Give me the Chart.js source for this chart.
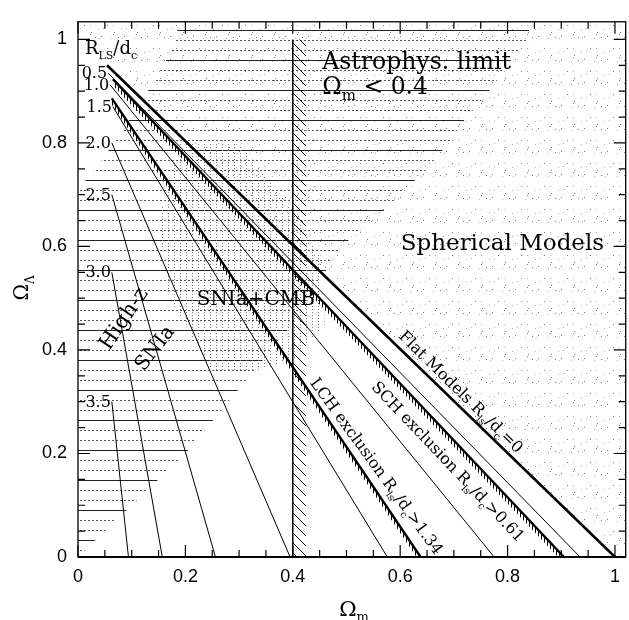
<!DOCTYPE html>
<html>
<head>
<meta charset="utf-8">
<script src="https://cdn.jsdelivr.net/npm/chart.js@4.4.0/dist/chart.umd.min.js"></script>
<style>
  html, body { margin: 0; padding: 0; background: #fff; }
  canvas { display: block; }
</style>
</head>
<body>
<canvas id="chart" width="629" height="620"></canvas>
<script>
// axis ticks
var xTickVals = [0, 0.2, 0.4, 0.6, 0.8, 1];
var xTickText = ['0', '0.2', '0.4', '0.6', '0.8', '1'];
var yTickVals = [0, 0.2, 0.4, 0.6, 0.8, 1];
var yTickText = ['0', '0.2', '0.4', '0.6', '0.8', '1'];

// R_LS/d_c contours: start point on the left, end on Omega_Lambda = 0
var contourLevels = ['0.5', '1.0', '1.5', '2.0', '2.5', '3.0', '3.5'];
var contourStartX = [0.056, 0.060, 0.065, 0.063, 0.063, 0.063, 0.063];
var contourStartY = [0.935, 0.912, 0.870, 0.800, 0.700, 0.550, 0.300];
var contourEndX = [0.935, 0.775, 0.576, 0.395, 0.256, 0.157, 0.094];

// flat models (R_LS/d_c = 0) and the two exclusion limits
var flatX = [0.054, 1.0];
var flatY = [0.95, 0];
var schX = [0.065, 0.905];   // R_LS/d_c > 0.61
var schY = [0.923, 0];
var lchX = [0.063, 0.638];   // R_LS/d_c > 1.34
var lchY = [0.886, 0];

// astrophysical limit Omega_m < 0.4
var astroX = [0.4, 0.4];
var astroY = [0, 1.0];
var astroHatchX = [0.4, 0.425];
var astroHatchY = [1.0, 1.0];

// spherical models region: above Omega_m + Omega_Lambda = 1
var sphericalX = [0, 1, 1.02];
var sphericalY = [1, 0, 0];

// high-z SNIa band (horizontal lines)
var sniaX = [0, 0.1, 0.2, 0.28, 0.40, 0.49, 0.56, 0.62, 0.65, 0.69, 0.72, 0.75, 0.78, 0.82, 0.84, 0.84, 0.19, 0.17, 0.13, 0.08, 0.04, 0, 0];
var sniaY = [0, 0.1, 0.2, 0.30, 0.45, 0.60, 0.66, 0.72, 0.75, 0.80, 0.845, 0.88, 0.92, 0.98, 1.0, 1.034, 1.034, 0.97, 0.90, 0.82, 0.76, 0.71, 0];

// SNIa + CMB region (vertical dotted lines)
var cmbX = [0.19, 0.30, 0.40, 0.45, 0.46, 0.40, 0.33, 0.25, 0.17, 0.15, 0.19];
var cmbY = [0.80, 0.80, 0.67, 0.58, 0.45, 0.38, 0.36, 0.36, 0.50, 0.65, 0.80];

function pts(xs, ys) {
  return xs.map(function(v, i) { return {x: v, y: ys[i]}; });
}

var canvas = document.getElementById('chart');
var ctx0 = canvas.getContext('2d');

function makePattern(w, h, draw) {
  var c = document.createElement('canvas');
  c.width = w; c.height = h;
  draw(c.getContext('2d'));
  return ctx0.createPattern(c, 'repeat');
}

var stipple = makePattern(23, 23, function(g) {
  var s = 11;
  for (var i = 0; i < 11; i++) {
    s = (Math.imul(s, 1103515245) + 12345) >>> 0;
    var px = (s >>> 16) % 23;
    s = (Math.imul(s, 1103515245) + 12345) >>> 0;
    var py = (s >>> 16) % 23;
    g.fillStyle = i % 2 ? '#7a7a7a' : '#b5b5b5';
    g.fillRect(px, py, 1, 1);
  }
});
var hLines = makePattern(4, 30, function(g) {
  g.fillStyle = '#222';
  g.fillRect(0, 0, 4, 1);
  g.fillStyle = '#555';
  g.fillRect(0, 10, 2, 1);
  g.fillRect(0, 20, 2, 1);
});
var vDots = makePattern(6, 3, function(g) {
  g.fillStyle = '#777';
  g.fillRect(0, 0, 1, 1);
});
var hatch = makePattern(10, 10, function(g) {
  g.strokeStyle = '#000';
  g.lineWidth = 1;
  g.beginPath();
  g.moveTo(-1, -1); g.lineTo(11, 11);
  g.stroke();
});
var ticksBand = makePattern(3, 3, function(g) {
  g.fillStyle = '#000';
  g.fillRect(1, 0, 1, 3);
});

var SERIF = '"DejaVu Serif", serif';

function richText(ctx, parts, size, x, y, angle, align) {
  ctx.save();
  ctx.translate(x, y);
  ctx.rotate(angle * Math.PI / 180);
  ctx.textAlign = 'left';
  ctx.textBaseline = 'alphabetic';
  var widths = parts.map(function(p) {
    ctx.font = (p[1] ? Math.round(size * 0.62) : size) + 'px ' + SERIF;
    return ctx.measureText(p[0]).width;
  });
  var total = widths.reduce(function(a, b) { return a + b; }, 0);
  var cx = align === 'center' ? -total / 2 : 0;
  var dy = align === 'center' ? size * 0.36 : 0;
  parts.forEach(function(p, i) {
    ctx.font = (p[1] ? Math.round(size * 0.62) : size) + 'px ' + SERIF;
    ctx.fillText(p[0], cx, dy + (p[1] ? size * 0.28 : 0));
    cx += widths[i];
  });
  ctx.restore();
}

var overlay = {
  id: 'overlay',
  afterDatasetsDraw: function(chart) {
    var ctx = chart.ctx, a = chart.chartArea;
    var xs = chart.scales.x, ys = chart.scales.y;
    var X = function(v) { return xs.getPixelForValue(v); };
    var Y = function(v) { return ys.getPixelForValue(v); };
    ctx.save();
    ctx.strokeStyle = '#000';
    ctx.lineWidth = 1.3;
    ctx.strokeRect(a.left, a.top, a.right - a.left, a.bottom - a.top);
    ctx.lineWidth = 2.2;
    ctx.beginPath(); ctx.moveTo(a.left, a.bottom); ctx.lineTo(a.right, a.bottom); ctx.stroke();

    // inward ticks on all four sides
    ctx.lineWidth = 1.2;
    ctx.beginPath();
    for (var i = 0; i <= 20; i++) {
      var v = i * 0.05;
      var len = i % 4 === 0 ? 12 : 7;
      var px = X(v), py = Y(v);
      ctx.moveTo(px, a.bottom); ctx.lineTo(px, a.bottom - len);
      ctx.moveTo(px, a.top); ctx.lineTo(px, a.top + len);
      ctx.moveTo(a.left, py); ctx.lineTo(a.left + len, py);
      ctx.moveTo(a.right, py); ctx.lineTo(a.right - len, py);
    }
    ctx.stroke();

    ctx.fillStyle = '#000';
    // contour labels
    ctx.font = '16px ' + SERIF;
    ctx.textAlign = 'right';
    ctx.textBaseline = 'middle';
    contourLevels.forEach(function(t, k) {
      ctx.fillText(t, X(contourStartX[k]) - 1, Y(contourStartY[k]) + 1);
    });

    richText(ctx, [['R'], ['LS', 1], ['/d'], ['c', 1]], 18, X(0.013), Y(0.972), 0, 'left');
    richText(ctx, [['Astrophys. limit']], 23.5, X(0.455), Y(0.942), 0, 'left');
    richText(ctx, [['\u03A9'], ['m', 1], [' < 0.4']], 23.5, X(0.455), Y(0.895), 0, 'left');
    richText(ctx, [['Spherical Models']], 23, X(0.601), Y(0.593), 0, 'left');
    richText(ctx, [['SNIa+CMB']], 20, X(0.221), Y(0.486), 0, 'left');
    richText(ctx, [['High-z']], 21, X(0.083), Y(0.462), -56, 'center');
    richText(ctx, [['SNIa']], 20, X(0.141), Y(0.405), -52, 'center');
    richText(ctx, [['Flat Models R'], ['ls', 1], ['/d'], ['c', 1], ['=0']], 16, X(0.714), Y(0.320), 44.5, 'center');
    richText(ctx, [['SCH exclusion R'], ['ls', 1], ['/d'], ['c', 1], ['>0.61']], 16, X(0.690), Y(0.185), 46.5, 'center');
    richText(ctx, [['LCH exclusion R'], ['ls', 1], ['/d'], ['c', 1], ['>1.34']], 16, X(0.557), Y(0.176), 54, 'center');

    // axis titles
    richText(ctx, [['\u03A9'], ['m', 1]], 21, X(0.514), 608, 0, 'center');
    richText(ctx, [['\u03A9'], ['\u039B', 1]], 20, 21, Y(0.52), -90, 'center');
    ctx.restore();
  }
};

var datasets = [];
datasets.push({data: pts(flatX, flatY), borderColor: '#000', borderWidth: 2.6, fill: false});
datasets.push({data: pts(schX, schY), borderColor: '#000', borderWidth: 2.4, fill: '+1', backgroundColor: ticksBand});
datasets.push({data: pts(schX, schY.map(function(v) { return v - 0.012; })), borderWidth: 0, fill: false});
datasets.push({data: pts(lchX, lchY), borderColor: '#000', borderWidth: 2.4, fill: '+1', backgroundColor: ticksBand});
datasets.push({data: pts(lchX, lchY.map(function(v) { return v - 0.012; })), borderWidth: 0, fill: false});
contourLevels.forEach(function(lv, k) {
  datasets.push({
    data: pts([contourStartX[k], contourEndX[k]], [contourStartY[k], 0]),
    borderColor: '#000', borderWidth: 1, fill: false
  });
});
datasets.push({data: pts(astroX, astroY), borderColor: '#000', borderWidth: 1.5, fill: false});
datasets.push({data: pts(astroHatchX, astroHatchY), borderWidth: 0, fill: 'start', backgroundColor: hatch});
datasets.push({data: pts(cmbX, cmbY), borderWidth: 0, fill: 'shape', backgroundColor: vDots});
datasets.push({data: pts(sniaX, sniaY), borderWidth: 0, fill: 'shape', backgroundColor: hLines});
datasets.push({data: pts(sphericalX, sphericalY), borderWidth: 0, fill: 'end', backgroundColor: stipple});

new Chart(canvas, {
  type: 'line',
  data: {datasets: datasets},
  options: {
    responsive: false,
    animation: false,
    layout: {padding: {top: 4, right: 1, left: 0, bottom: 0}},
    elements: {point: {radius: 0}, line: {tension: 0}},
    plugins: {legend: {display: false}, tooltip: {enabled: false}},
    scales: {
      x: {
        type: 'linear', min: 0, max: 1.02,
        afterBuildTicks: function(s) { s.ticks = xTickVals.map(function(v) { return {value: v}; }); },
        afterFit: function(s) { s.height = 63; },
        ticks: {
          autoSkip: false, maxRotation: 0, padding: 9, color: '#000',
          font: {family: '"Liberation Sans", Arial, sans-serif', size: 18},
          callback: function(v, i) { return xTickText[i]; }
        },
        grid: {display: false, drawTicks: false},
        border: {display: false}
      },
      y: {
        type: 'linear', min: 0, max: 1.034,
        afterBuildTicks: function(s) { s.ticks = yTickVals.map(function(v) { return {value: v}; }); },
        afterFit: function(s) { s.width = 78; },
        ticks: {
          autoSkip: false, padding: 11, color: '#000',
          font: {family: '"Liberation Sans", Arial, sans-serif', size: 18},
          callback: function(v, i) { return yTickText[i]; }
        },
        grid: {display: false, drawTicks: false},
        border: {display: false}
      }
    }
  },
  plugins: [overlay]
});
</script>
</body>
</html>
